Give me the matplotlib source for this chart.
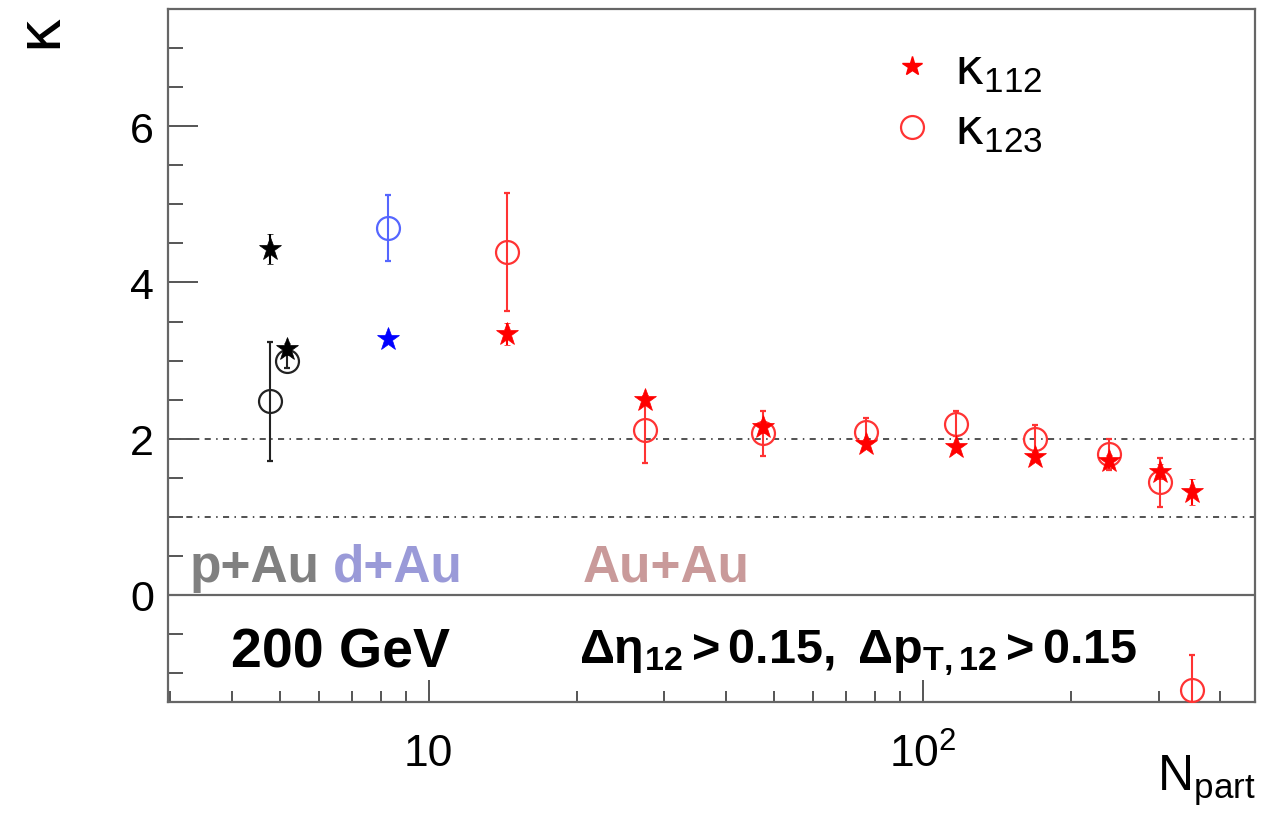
import matplotlib
matplotlib.use("Agg")
import matplotlib.pyplot as plt
from matplotlib.lines import Line2D
from matplotlib.ticker import FixedLocator, NullFormatter, MultipleLocator
from matplotlib.transforms import blended_transform_factory

plt.rcParams['font.family'] = ['Liberation Sans', 'DejaVu Sans']
plt.rcParams['mathtext.fontset'] = 'custom'
plt.rcParams['mathtext.rm'] = 'Liberation Sans'
plt.rcParams['mathtext.it'] = 'Liberation Sans:italic'
plt.rcParams['mathtext.bf'] = 'Liberation Sans:bold'

# p+Au (black)
npart_pau = [4.77, 5.16]
k112_pau = [4.43, 3.15]
k112_pau_err = [0.19, 0.08]
k123_pau = [2.48, 3.00]
k123_pau_err = [0.76, 0.10]

# d+Au (blue)
npart_dau = [8.28]
k112_dau = [3.28]
k112_dau_err = [0.05]
k123_dau = [4.70]
k123_dau_err = [0.42]

# Au+Au (red)
npart_auau = [14.4, 27.4, 47.6, 76.9, 116.7, 169, 238, 302, 350]
k112_auau = [3.34, 2.50, 2.15, 1.93, 1.89, 1.77, 1.71, 1.58, 1.32]
k112_auau_err = [0.14, 0.06, 0.08, 0.06, 0.06, 0.06, 0.08, 0.10, 0.17]
k123_auau = [4.39, 2.11, 2.07, 2.08, 2.19, 2.00, 1.80, 1.44, -1.22]
k123_auau_err = [0.75, 0.42, 0.29, 0.19, 0.16, 0.17, 0.20, 0.31, 0.45]

ref_lines = [2, 1]

fig = plt.figure(figsize=(12.86, 8.2), dpi=100)
ax = fig.add_axes([0.1306, 0.1427, 0.8452, 0.8451])

def draw(n, k112, e112, k123, e123, col, ccol):
    ax.errorbar(n, k123, yerr=e123, fmt='o', ms=16.5, mfc='none', mec=ccol,
                mew=1.6, ecolor=ccol, elinewidth=1.5, capsize=2.5, capthick=1.5, zorder=3)
    ax.errorbar(n, k112, yerr=e112, fmt='*', ms=17, mfc=col, mec=col,
                mew=0.5, ecolor=col, elinewidth=1.5, capsize=2.5, capthick=1.5, zorder=4)

draw(npart_pau, k112_pau, k112_pau_err, k123_pau, k123_pau_err, 'black', '#222222')
draw(npart_dau, k112_dau, k112_dau_err, k123_dau, k123_dau_err, '#0000ff', '#5566ff')
draw(npart_auau, k112_auau, k112_auau_err, k123_auau, k123_auau_err, '#ff0000', '#ff3333')

for yv in ref_lines:
    ax.axhline(yv, color='#222222', lw=1.1, ls=(0, (4, 3.5, 1, 3.5)), zorder=1)
ax.axhline(0, color='#666666', lw=1.6, zorder=2)

ax.set_xscale('log')
ax.set_xlim(2.97, 470)
ax.set_ylim(-1.37, 7.5)

ax.xaxis.set_major_locator(FixedLocator([10, 100]))
ax.set_xticklabels(['10', '$10^{2}$'])
minor = [m * d for d in (1, 10, 100) for m in range(2, 10)]
ax.xaxis.set_minor_locator(FixedLocator(minor))
ax.xaxis.set_minor_formatter(NullFormatter())
ax.yaxis.set_major_locator(FixedLocator([0, 2, 4, 6]))
ax.yaxis.set_minor_locator(MultipleLocator(0.5))

ax.tick_params(axis='y', which='major', direction='in', length=21.6, width=1.4,
               color='#555555', labelsize=31, pad=10)
ax.tick_params(axis='y', which='minor', direction='in', length=10.8, width=1.4,
               color='#555555')
ax.tick_params(axis='x', which='major', direction='in', length=16, width=1.4,
               color='#555555', labelsize=32, pad=22)
ax.tick_params(axis='x', which='minor', direction='in', length=8, width=1.4,
               color='#555555')
for sp in ax.spines.values():
    sp.set_color('#666666')
    sp.set_linewidth(1.6)

# collision system labels, just above the zero line
tr = blended_transform_factory(ax.transAxes, ax.transData)
ax.text(0.02, 0.18, 'p+Au', transform=tr, fontsize=37, fontweight='bold',
        color='#808080', va='baseline')
ax.text(0.152, 0.18, 'd+Au', transform=tr, fontsize=37, fontweight='bold',
        color='#9a9ad8', va='baseline')
ax.text(0.382, 0.18, 'Au+Au', transform=tr, fontsize=37, fontweight='bold',
        color='#c99a9a', va='baseline')

ax.text(0.058, 0.072, '200 GeV', transform=ax.transAxes, fontsize=40, fontweight='bold',
        va='center', color='black')
ax.text(0.378, 0.072, r'$\mathbf{\Delta\eta_{12} > 0.15,\ \Delta p_{T,12} > 0.15}$',
        transform=ax.transAxes, fontsize=35, va='center', color='black')

handles = [Line2D([], [], ls='none', marker='*', ms=15, color='#ff0000'),
           Line2D([], [], ls='none', marker='o', ms=16.5, mfc='none', mec='#ff3333', mew=1.6)]
ax.legend(handles, ['κ$_{112}$', 'κ$_{123}$'], loc='upper left',
          bbox_to_anchor=(0.62, 1.012), frameon=False,
          prop={'family': ['DejaVu Sans'], 'size': 36},
          handletextpad=0.35, labelspacing=0.25, handlelength=1.0)

fig.text(0.03, 0.985, 'κ', fontsize=44, rotation=90, ha='center', va='top',
         family=['DejaVu Sans'])
fig.text(0.976, 0.015, 'N$_{\\mathrm{part}}$', fontsize=36, ha='right', va='bottom')

fig.savefig('out.png', dpi=100)
